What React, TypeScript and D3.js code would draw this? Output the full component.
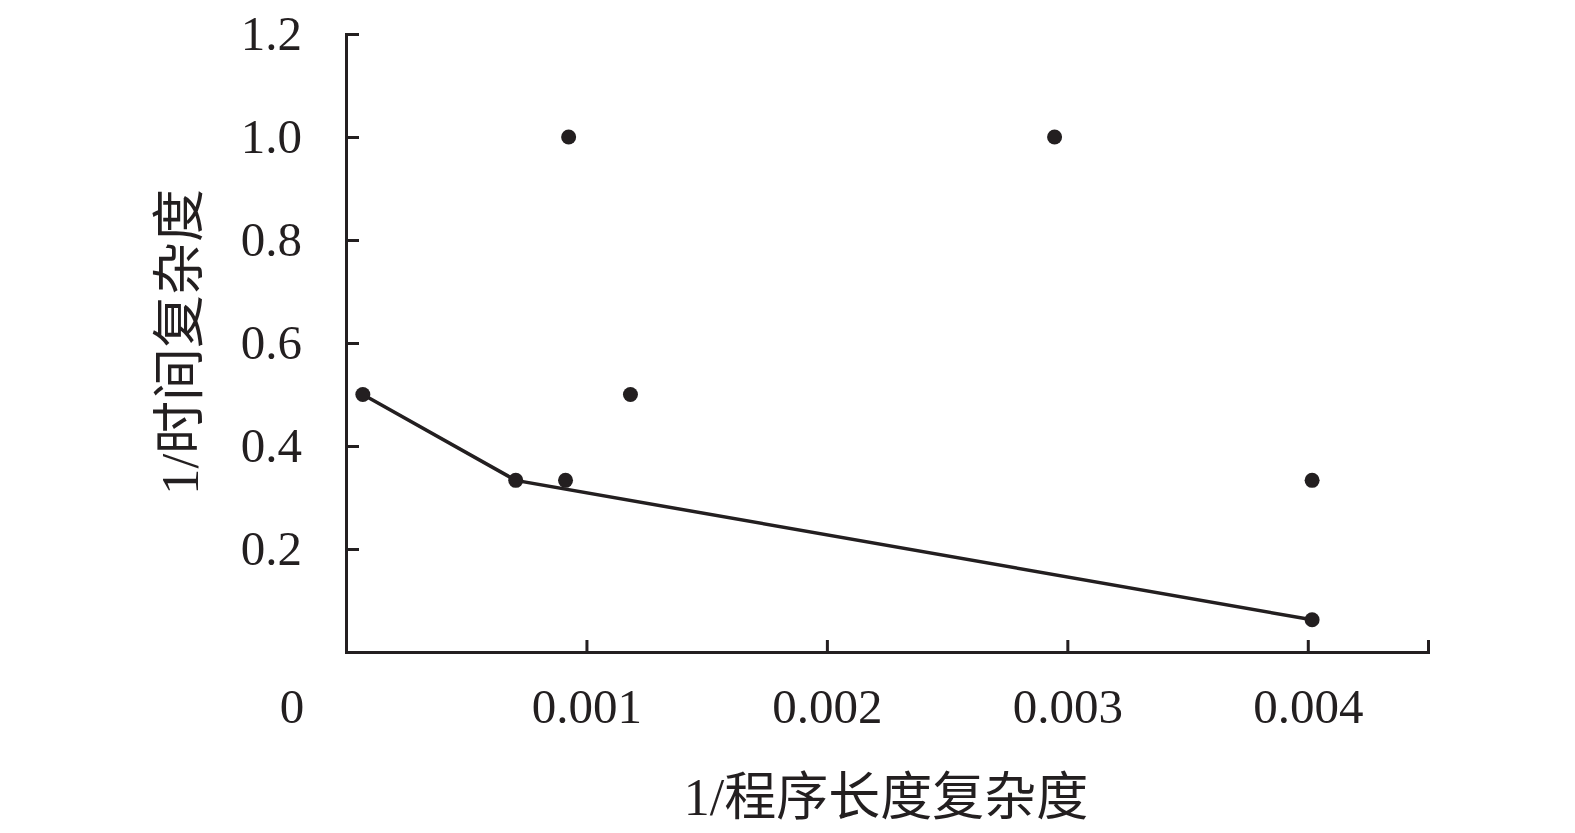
import React, { useRef, useEffect } from 'react';
import * as d3 from 'd3';

// 散点（1/程序长度复杂度, 1/时间复杂度）
const xValues = [0.00007, 0.000706, 0.000913, 0.000926, 0.001183, 0.002947, 0.004018, 0.004018];
const yValues = [0.5, 0.3333, 0.3333, 1.0, 0.5, 1.0, 0.3333, 0.0625];

// 折线（前沿）
const frontX = [0.00007, 0.000706, 0.004018];
const frontY = [0.5, 0.3333, 0.0625];

const xTicks = [0.001, 0.002, 0.003, 0.004];
const yTicks = [0.2, 0.4, 0.6, 0.8, 1.0, 1.2];

const xTitle = '1/程序长度复杂度';
const yTitle = '1/时间复杂度';

const W = 1575;
const H = 833;
const ink = '#231f20';
const font = '"Liberation Serif", "Times New Roman", "Noto Sans CJK SC", serif';

const App = () => {
  const svgRef = useRef<SVGSVGElement>(null);

  useEffect(() => {
    const svg = d3.select(svgRef.current);
    svg.selectAll('*').remove();

    const x = d3.scaleLinear().domain([0, 0.0045]).range([346, 1428]);
    const y = d3.scaleLinear().domain([0, 1.2]).range([652, 34]);

    // X축
    const gx = svg
      .append('g')
      .attr('transform', `translate(0,${y(0)})`)
      .call(
        d3.axisBottom(x).tickValues(xTicks).tickSizeInner(-12).tickSizeOuter(-12).tickPadding(36)
          .tickFormat(d3.format('.3f') as any)
      );

    // Y축
    const gy = svg
      .append('g')
      .attr('transform', `translate(${x(0)},0)`)
      .call(
        d3.axisLeft(y).tickValues(yTicks).tickSizeInner(-13).tickSizeOuter(-13).tickPadding(44)
          .tickFormat(d3.format('.1f') as any)
      );

    [gx, gy].forEach(g => {
      g.selectAll('path, line').attr('stroke', ink).attr('stroke-width', 3);
      g.selectAll('text')
        .attr('fill', ink)
        .style('font-family', font)
        .style('font-size', '49px');
      g.attr('font-family', null).attr('font-size', null);
    });

    // 원점 라벨
    svg
      .append('text')
      .attr('x', x(0) - 54)
      .attr('y', y(0) + 36)
      .attr('dy', '0.71em')
      .attr('text-anchor', 'middle')
      .attr('fill', ink)
      .style('font-family', font)
      .style('font-size', '49px')
      .text('0');

    // 라인
    const line = d3
      .line<number>()
      .x((d, i) => x(frontX[i]))
      .y(d => y(d));

    svg
      .append('path')
      .datum(frontY)
      .attr('fill', 'none')
      .attr('stroke', ink)
      .attr('stroke-width', 3.5)
      .attr('d', line);

    // 포인트
    svg
      .selectAll('.pt')
      .data(yValues)
      .enter()
      .append('circle')
      .attr('cx', (d, i) => x(xValues[i]))
      .attr('cy', d => y(d))
      .attr('r', 7.5)
      .attr('fill', ink);

    // 축 제목
    svg
      .append('text')
      .attr('x', 886)
      .attr('y', 797)
      .attr('dominant-baseline', 'central')
      .attr('text-anchor', 'middle')
      .attr('fill', ink)
      .style('font-family', font)
      .style('font-size', '52px')
      .text(xTitle);

    svg
      .append('text')
      .attr('transform', 'translate(180,342) rotate(-90)')
      .attr('dominant-baseline', 'central')
      .attr('text-anchor', 'middle')
      .attr('fill', ink)
      .style('font-family', font)
      .style('font-size', '53px')
      .text(yTitle);
  }, []);

  return (
    <svg
      ref={svgRef}
      width={W}
      height={H}
      style={{ position: 'absolute', left: 0, top: 0, background: '#fff' }}
    />
  );
};

export default App;
